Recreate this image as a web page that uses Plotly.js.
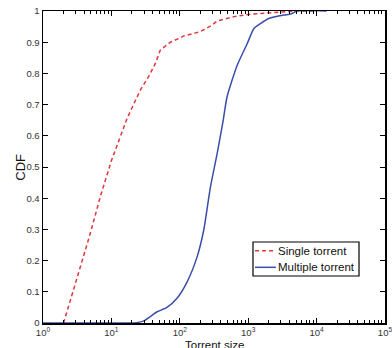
<!DOCTYPE html>
<html><head><meta charset="utf-8">
<script src="https://cdn.plot.ly/plotly-3.0.1.min.js"></script>
<style>body{margin:0;background:#fff}#c{width:392px;height:348px}</style>
</head><body><div id="c"></div>
<script>
const singleX = [2.0, 3.0, 4.76, 7, 10, 13.5, 16.6, 20, 26.6, 35, 44, 52, 65, 73, 97, 114, 200, 297, 353, 617, 1084, 2140, 5200, 10000];
const singleY = [0, 0.13, 0.277, 0.41, 0.52, 0.597, 0.651, 0.69, 0.747, 0.79, 0.832, 0.875, 0.891, 0.90, 0.912, 0.92, 0.934, 0.955, 0.968, 0.982, 0.99, 0.995, 1.0, 1.0];
const multiX = [1, 15, 21, 29.7, 46.6, 65, 91, 128, 179, 224, 281, 352, 432, 491, 693, 970, 1212, 1520, 2000, 3330, 4170, 5200, 14000];
const multiY = [0, 0, 0, 0.007, 0.036, 0.05, 0.079, 0.132, 0.212, 0.298, 0.437, 0.544, 0.651, 0.725, 0.827, 0.896, 0.944, 0.96, 0.976, 0.987, 0.99, 1.0, 1.0];
const seriesNames = ['Single torrent', 'Multiple torrent'];
const xTickVals = [1, 10, 100, 1000, 10000, 100000];
const xTickText = ['10<sup>0</sup>', '10<sup>1</sup>', '10<sup>2</sup>', '10<sup>3</sup>', '10<sup>4</sup>', '10<sup>5</sup>'];
const yTickVals = [0, 0.1, 0.2, 0.3, 0.4, 0.5, 0.6, 0.7, 0.8, 0.9, 1];
const yTickText = ['0', '0.1', '0.2', '0.3', '0.4', '0.5', '0.6', '0.7', '0.8', '0.9', '1'];

const red = '#e0363c', blue = '#3a4ea8';
const traces = [
  {x: singleX, y: singleY, name: seriesNames[0], mode: 'lines', type: 'scatter',
   line: {color: red, width: 1.5, dash: '4px,3px'}},
  {x: multiX, y: multiY, name: seriesNames[1], mode: 'lines', type: 'scatter',
   line: {color: blue, width: 1.5, shape: 'spline', smoothing: 0.6}}
];
const fam = 'Liberation Sans, Arial, sans-serif';
// legend box drawn manually (paper coords)
const lg = {x0: 0.614, x1: 0.924, y0: 0.1506, y1: 0.2596, rows: [0.2317, 0.1785], s0: 0.620, s1: 0.681};
const layout = {
  width: 392, height: 348,
  margin: {l: 43, r: 7, t: 11, b: 25},
  paper_bgcolor: '#fff', plot_bgcolor: '#fff',
  font: {family: fam, size: 9.5, color: '#333'},
  showlegend: false,
  xaxis: {type: 'log', range: [0, 5], tickvals: xTickVals, ticktext: xTickText,
          ticks: 'inside', ticklen: 5, tickcolor: '#000', showline: true, linecolor: '#000', linewidth: 1.5,
          mirror: 'ticks', showgrid: false, zeroline: false, ticklabeloverflow: 'allow',
          minor: {ticks: 'inside', ticklen: 3, tickcolor: '#000', dtick: 'D1', showgrid: false}},
  yaxis: {range: [0, 1], tickvals: yTickVals, ticktext: yTickText,
          ticks: 'inside', ticklen: 5, tickcolor: '#000', showline: true, linecolor: '#000', linewidth: 1.5,
          mirror: 'ticks', showgrid: false, zeroline: false},
  shapes: [
    {type: 'rect', xref: 'paper', yref: 'paper', x0: lg.x0, x1: lg.x1, y0: lg.y0, y1: lg.y1,
     fillcolor: '#fff', line: {color: '#000', width: 1.2}},
    {type: 'line', xref: 'paper', yref: 'paper', x0: lg.s0, x1: lg.s1, y0: lg.rows[0], y1: lg.rows[0],
     line: {color: red, width: 1.5, dash: '4px,3px'}},
    {type: 'line', xref: 'paper', yref: 'paper', x0: lg.s0, x1: lg.s1, y0: lg.rows[1], y1: lg.rows[1],
     line: {color: blue, width: 1.5}}
  ],
  annotations: [
    {text: seriesNames[0], xref: 'paper', yref: 'paper', x: lg.s1 + 0.001, y: lg.rows[0], xanchor: 'left', yanchor: 'middle',
     showarrow: false, font: {family: fam, size: 11.5, color: '#111'}},
    {text: seriesNames[1], xref: 'paper', yref: 'paper', x: lg.s1 + 0.001, y: lg.rows[1], xanchor: 'left', yanchor: 'middle',
     showarrow: false, font: {family: fam, size: 11.5, color: '#111'}},
    {text: 'Torrent size', xref: 'paper', yref: 'paper', x: 0.5, y: -0.044, xanchor: 'center', yanchor: 'top',
     showarrow: false, font: {family: fam, size: 11.5, color: '#111'}},
    {text: 'CDF', xref: 'paper', yref: 'paper', x: -0.068, y: 0.5, xanchor: 'center', yanchor: 'middle',
     textangle: -90, showarrow: false, font: {family: fam, size: 13, color: '#111'}}
  ]
};
Plotly.newPlot('c', traces, layout, {displayModeBar: false, staticPlot: true});
</script></body></html>
